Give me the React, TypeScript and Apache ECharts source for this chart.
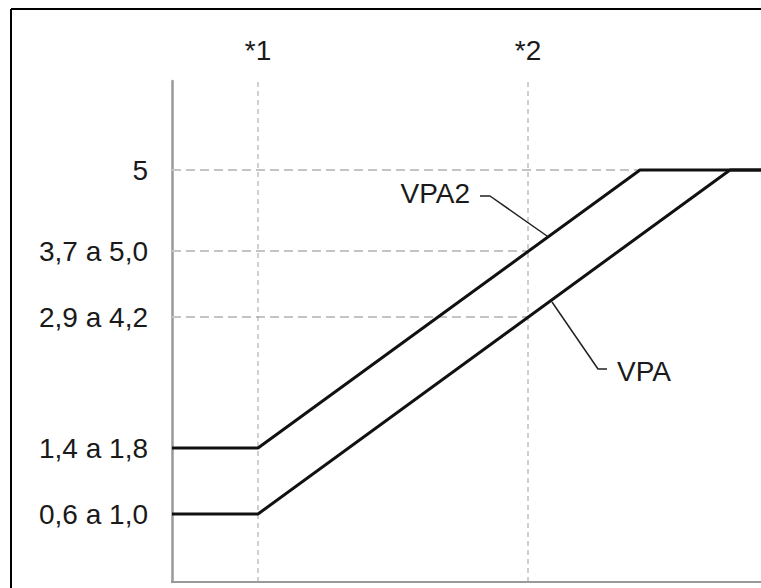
import React, { useEffect, useRef } from "react";
import * as echarts from "echarts";

// x positions of the reference marks, y positions of voltage levels (schematic units)
const xTickValues = [86, 356];
const xTickLabels = ["*1", "*2"];
const yTickValues = [68, 134, 265, 331, 412];
const yTickLabels = ["0,6 a 1,0", "1,4 a 1,8", "2,9 a 4,2", "3,7 a 5,0", "5"];

const vpa2Data = [[0, 134], [86, 134], [468, 412], [589, 412]];
const vpaData = [[0, 68], [86, 68], [558, 412], [589, 412]];

const vpa2Leader = [[308, 386], [318, 386], [375, 346]];
const vpaLeader = [[380, 280], [426, 213], [435, 213]];

const hGridLines = [
  [[0, 412], [468, 412]],
  [[0, 331], [356, 331]],
  [[0, 265], [356, 265]],
];
const vGridLines = [
  [[86, 0], [86, 501]],
  [[356, 0], [356, 501]],
];

const FONT = "'Liberation Sans', Arial, sans-serif";
const TEXT = "#1a1a1a";

export default function App() {
  const ref = useRef<HTMLDivElement>(null);
  useEffect(() => {
    if (!ref.current) return;
    const chart = echarts.init(ref.current, null, { renderer: "svg" });
    const series: any[] = [];
    hGridLines.forEach((d) =>
      series.push({
        type: "line",
        data: d,
        symbol: "none",
        silent: true,
        z: 1,
        lineStyle: { color: "#c4c4c4", width: 2, type: [9, 5] },
      })
    );
    vGridLines.forEach((d) =>
      series.push({
        type: "line",
        data: d,
        symbol: "none",
        silent: true,
        z: 1,
        lineStyle: { color: "#a0a0a0", width: 1, type: [5, 4] },
      })
    );
    [vpa2Data, vpaData].forEach((d) =>
      series.push({
        type: "line",
        data: d,
        symbol: "none",
        z: 3,
        lineStyle: { color: "#111", width: 3 },
      })
    );
    [vpa2Leader, vpaLeader].forEach((d) =>
      series.push({
        type: "line",
        data: d,
        symbol: "none",
        z: 3,
        lineStyle: { color: "#222", width: 1.5 },
      })
    );
    const lbl = { color: TEXT, fontSize: 28, fontFamily: FONT };
    series.push({
      type: "scatter",
      symbolSize: 0,
      z: 4,
      itemStyle: { opacity: 1, color: TEXT },
      data: [
        {
          value: vpa2Leader[0],
          label: { show: true, position: "left", distance: 10, offset: [0, -3], formatter: "VPA2", ...lbl },
        },
        {
          value: vpaLeader[vpaLeader.length - 1],
          label: { show: true, position: "right", distance: 10, offset: [0, 2], formatter: "VPA", ...lbl },
        },
      ],
      label: lbl,
    });

    chart.setOption({
      animation: false,
      grid: { left: 172, top: 81, right: 0, bottom: 6 },
      xAxis: [
        {
          type: "value",
          position: "top",
          min: 0,
          max: 589,
          axisLine: { show: true, lineStyle: { color: "#999", width: 2 } },
          axisTick: { show: false },
          splitLine: { show: false },
          axisLabel: {
            customValues: xTickValues,
            formatter: (v: number) => xTickLabels[xTickValues.indexOf(v)] ?? "",
            color: TEXT,
            fontSize: 28,
            fontFamily: FONT,
            margin: 17,
          },
        },
        {
          type: "value",
          position: "bottom",
          min: 0,
          max: 589,
          axisLine: { show: true, lineStyle: { color: "#999", width: 2 } },
          axisTick: { show: false },
          splitLine: { show: false },
          axisLabel: { show: false },
        },
      ],
      yAxis: {
        type: "value",
        min: 0,
        max: 501,
        axisLine: { show: true, lineStyle: { color: "#999", width: 2.5 } },
        axisTick: { show: false },
        splitLine: { show: false },
        axisLabel: {
          customValues: yTickValues,
          formatter: (v: number) => yTickLabels[yTickValues.indexOf(v)] ?? "",
          color: TEXT,
          fontSize: 28,
          fontFamily: FONT,
          margin: 24,
        },
      },
      graphic: [
        { type: "line", shape: { x1: 11, y1: 9, x2: 761, y2: 9 }, style: { stroke: "#000", lineWidth: 2 } },
        { type: "line", shape: { x1: 11, y1: 9, x2: 11, y2: 588 }, style: { stroke: "#000", lineWidth: 2 } },
      ],
      series,
    });
    return () => chart.dispose();
  }, []);
  return (
    <div
      ref={ref}
      style={{ position: "absolute", left: 0, top: 0, width: 761, height: 588, background: "#fff" }}
    />
  );
}
